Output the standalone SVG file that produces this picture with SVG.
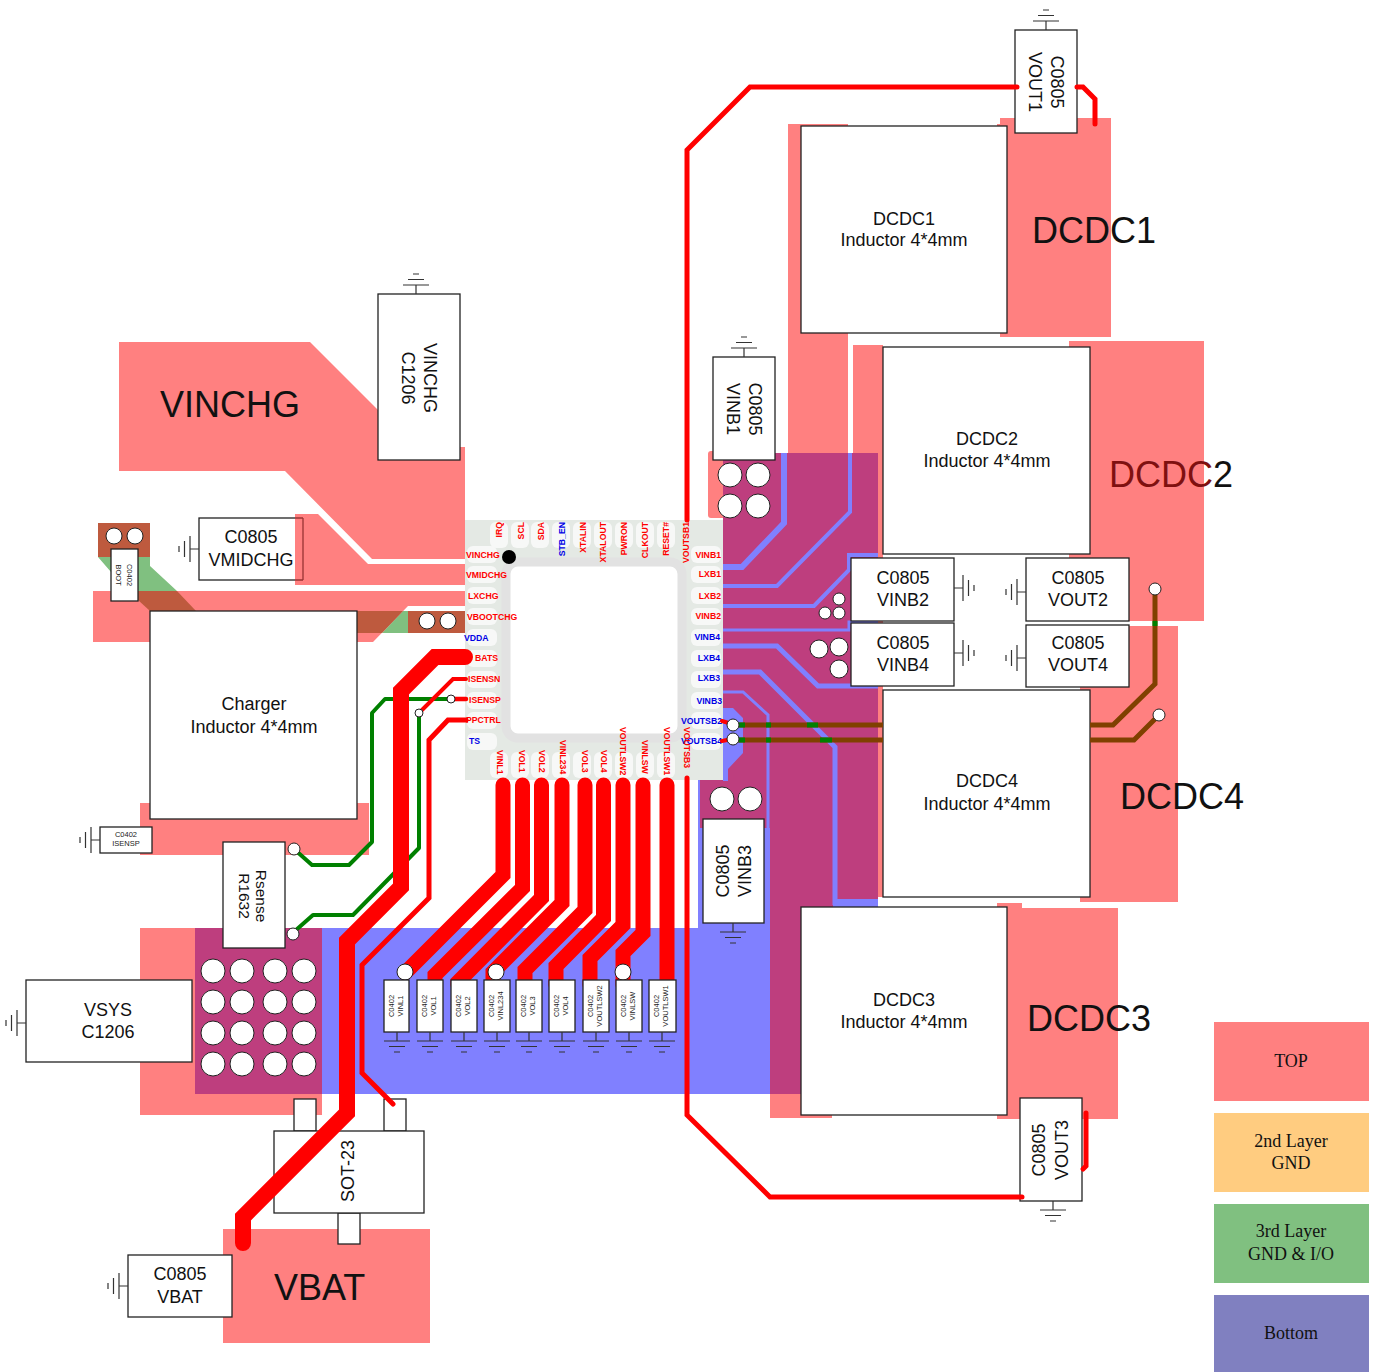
<svg xmlns="http://www.w3.org/2000/svg" xmlns:xlink="http://www.w3.org/1999/xlink" width="1382" height="1372" viewBox="0 0 1382 1372">
<style>
text{font-family:"Liberation Sans",Arial,sans-serif;fill:#111}
.t{font-size:18px;text-anchor:middle}
.rs{font-size:15.5px;text-anchor:middle}
.big{font-size:36px}
.s{font-size:7.5px;text-anchor:middle;fill:#222}
.leg{font-family:"Liberation Serif",serif;font-size:18px;text-anchor:middle}
.box{fill:#fff;stroke:#222;stroke-width:1.3}
.top{fill:#FF8080}.bot{fill:#8080FF}.both{fill:#BE3E7E}
.bl{fill:none;stroke:#8080FF;stroke-linejoin:miter}
.r{fill:none;stroke:#f00;stroke-linecap:round;stroke-linejoin:miter}
.g{fill:none;stroke:#008000;stroke-width:4;stroke-linecap:round;stroke-linejoin:round}
.br{fill:none;stroke:#804000;stroke-width:5}
.via{fill:#fff;stroke:#222;stroke-width:1}
.cr{font-size:8.7px;font-weight:bold;fill:#f00}
.cb{font-size:8.7px;font-weight:bold;fill:#0000e6}
.e{text-anchor:end}
.pad{fill:#f7f8f7;stroke:none}
</style>
<defs>
<g id="gnd" fill="none" stroke="#333" stroke-width="1.2">
<path d="M0 0V9M-13 9H13M-8 14.500H8M-3 20H3"/>
</g>
</defs>

<g id="node-vmidchg-cap">
<rect class="box" x="199" y="518" width="104" height="62"/>
<text class="t" x="251" y="543">C0805</text>
<text class="t" x="251" y="566">VMIDCHG</text>
<use xlink:href="#gnd" href="#gnd" transform="translate(199,549) rotate(90)"/>
</g>

<g id="copper">
<path class="bot" d="M322 928H698V780H770V928H770V1094H322Z"/>
<rect class="bot" x="832" y="899" width="46" height="8"/>
<path class="top" d="M119 342H310L378 410V447H465V559H372L285 471H119Z"/>
<path class="top" d="M295 514H318L368 564H465V585H295Z"/>
<path class="top" d="M93 591H465V606H408L373 642H93Z"/>
<rect class="top" x="140" y="803" width="229" height="52"/>
<rect class="top" x="140" y="928" width="182" height="187"/>
<rect class="top" x="223" y="1229" width="207" height="114"/>
<path class="top" d="M788 124H848V453H788Z"/>
<rect class="top" x="997" y="124" width="20" height="20"/>
<rect class="top" x="1000" y="118" width="111" height="219"/>
<rect class="top" x="853" y="345" width="30" height="110"/>
<rect class="top" x="1069" y="341" width="135" height="280"/>
<rect class="top" x="878" y="453" width="5" height="444"/>
<rect class="top" x="1080" y="626" width="98" height="276"/>
<rect class="top" x="770" y="1094" width="62" height="24"/>
<rect class="top" x="997" y="903" width="25" height="20"/>
<rect class="top" x="997" y="908" width="121" height="211"/>
<rect class="top" x="708" y="451" width="20" height="67" rx="3"/>
<rect class="top" x="700" y="780" width="23" height="3"/>
<path class="both" d="M723 453H878V899H833V1094H770V828H700V780H723Z"/>
<rect class="both" x="195" y="928" width="127" height="166"/>
<path class="bot" d="M723 708H733L743 718V753L728 769V781H723Z"/>
<rect class="bot" x="698" y="828" width="72" height="100"/>
<g class="bl">
<path stroke-width="6" d="M723 567H742L784 523V453"/>
<path stroke-width="4" d="M723 586H777L850 512V453"/>
<path stroke-width="4" d="M723 606H814L849 570V555H878"/>
<path stroke-width="3" d="M723 630H849V622H878"/>
<path stroke-width="5" d="M723 646H777L818 686H878"/>
<path stroke-width="5" d="M723 672H760L835 747V905"/>
<path stroke-width="3" d="M723 692H743L768 715V828"/>
</g>
<rect x="848" y="440" width="5" height="13" fill="#fff"/>
<path fill="#BE5A3E" d="M98 523H150V557H98Z"/>
<path fill="#80C080" d="M98 557H150V566L177 591H138V572H111Z"/>
<path fill="#BE5A3E" d="M138 591H177L196 611H150L138 600Z"/>
<path fill="#80C080" d="M403 611H408V633H382Z"/>
<path fill="#BE5A3E" d="M357 611H403L382 633H357Z"/>
<rect x="408" y="611" width="57" height="22" fill="#BE5A3E"/>
<path d="M303 518V580M295 518H303M295 580H303" stroke="#993333" stroke-width="1.300" fill="none"/>
</g>

<text class="big" x="160" y="417">VINCHG</text>
<text class="big" x="274" y="1300">VBAT</text>
<text class="big" x="1032" y="243">DCDC1</text>
<text class="big" x="1109" y="487" style="fill:#7f1010">DCDC<tspan style="fill:#111">2</tspan></text>
<text class="big" x="1120" y="809">DCDC4</text>
<text class="big" x="1027" y="1031">DCDC3</text>

<g id="chip">
<rect x="465" y="520" width="258" height="260" fill="#e4e9e4"/>
<g class="pad">
<rect x="490" y="522" width="18" height="26" rx="6"/><rect x="511" y="522" width="18" height="26" rx="6"/><rect x="531" y="522" width="18" height="26" rx="6"/><rect x="552" y="522" width="18" height="26" rx="6"/><rect x="573" y="522" width="18" height="26" rx="6"/><rect x="594" y="522" width="18" height="26" rx="6"/><rect x="615" y="522" width="18" height="26" rx="6"/><rect x="636" y="522" width="18" height="26" rx="6"/><rect x="657" y="522" width="18" height="26" rx="6"/>
<rect x="490" y="752" width="18" height="26" rx="6"/><rect x="511" y="752" width="18" height="26" rx="6"/><rect x="531" y="752" width="18" height="26" rx="6"/><rect x="552" y="752" width="18" height="26" rx="6"/><rect x="573" y="752" width="18" height="26" rx="6"/><rect x="594" y="752" width="18" height="26" rx="6"/><rect x="615" y="752" width="18" height="26" rx="6"/><rect x="636" y="752" width="18" height="26" rx="6"/><rect x="657" y="752" width="18" height="26" rx="6"/>
<rect x="467" y="546" width="30" height="17" rx="6"/><rect x="467" y="566" width="30" height="17" rx="6"/><rect x="467" y="587" width="30" height="17" rx="6"/><rect x="467" y="608" width="30" height="17" rx="6"/><rect x="467" y="629" width="30" height="17" rx="6"/><rect x="467" y="650" width="30" height="17" rx="6"/><rect x="467" y="671" width="30" height="17" rx="6"/><rect x="467" y="692" width="30" height="17" rx="6"/><rect x="467" y="712" width="30" height="17" rx="6"/><rect x="467" y="733" width="30" height="17" rx="6"/>
<rect x="691" y="546" width="30" height="17" rx="6"/><rect x="691" y="566" width="30" height="17" rx="6"/><rect x="691" y="587" width="30" height="17" rx="6"/><rect x="691" y="608" width="30" height="17" rx="6"/><rect x="691" y="629" width="30" height="17" rx="6"/><rect x="691" y="650" width="30" height="17" rx="6"/><rect x="691" y="671" width="30" height="17" rx="6"/><rect x="691" y="692" width="30" height="17" rx="6"/><rect x="691" y="712" width="30" height="17" rx="6"/><rect x="691" y="733" width="30" height="17" rx="6"/>
</g>
<rect x="506" y="562" width="176" height="176" rx="12" fill="#fff" stroke="#e2e2e2" stroke-width="9"/>
<circle cx="509" cy="557" r="7" fill="#000"/>
<text class="cr" x="466" y="558">VINCHG</text>
<text class="cr" x="466" y="578">VMIDCHG</text>
<text class="cr" x="468" y="599">LXCHG</text>
<text class="cr" x="467" y="620">VBOOTCHG</text>
<text class="cb" x="464" y="641">VDDA</text>
<text class="cr" x="475" y="661">BATS</text>
<text class="cr" x="468" y="682">ISENSN</text>
<text class="cr" x="469" y="703">ISENSP</text>
<text class="cr" x="466" y="723">PPCTRL</text>
<text class="cb" x="469" y="744">TS</text>
<text class="cr e" x="721" y="558">VINB1</text>
<text class="cr e" x="721" y="577">LXB1</text>
<text class="cr e" x="721" y="599">LXB2</text>
<text class="cr e" x="721" y="619">VINB2</text>
<text class="cb e" x="720" y="640">VINB4</text>
<text class="cb e" x="720" y="661">LXB4</text>
<text class="cb e" x="720" y="681">LXB3</text>
<text class="cb e" x="722" y="704">VINB3</text>
<text class="cb e" x="722" y="724">VOUTSB2</text>
<text class="cb e" x="722" y="744">VOUTSB4</text>
<text class="cr e" transform="translate(502,522) rotate(-90)">IRQ</text>
<text class="cr e" transform="translate(524,522) rotate(-90)">SCL</text>
<text class="cr e" transform="translate(544,522) rotate(-90)">SDA</text>
<text class="cb e" transform="translate(565,522) rotate(-90)">STB_EN</text>
<text class="cr e" transform="translate(586,522) rotate(-90)">XTALIN</text>
<text class="cr e" transform="translate(606,522) rotate(-90)">XTALOUT</text>
<text class="cr e" transform="translate(627,522) rotate(-90)">PWRON</text>
<text class="cr e" transform="translate(648,522) rotate(-90)">CLKOUT</text>
<text class="cr e" transform="translate(669,522) rotate(-90)">RESET#</text>
<text class="cr e" transform="translate(689,522) rotate(-90)">VOUTSB1</text>
<text class="cr" transform="translate(497,750) rotate(90)">VINL1</text>
<text class="cr" transform="translate(519,750) rotate(90)">VOL1</text>
<text class="cr" transform="translate(539,750) rotate(90)">VOL2</text>
<text class="cr" transform="translate(560,740) rotate(90)">VINL234</text>
<text class="cr" transform="translate(582,750) rotate(90)">VOL3</text>
<text class="cr" transform="translate(601,750) rotate(90)">VOL4</text>
<text class="cr" transform="translate(620,727) rotate(90)">VOUTLSW2</text>
<text class="cr" transform="translate(642,740) rotate(90)">VINLSW</text>
<text class="cr" transform="translate(664,727) rotate(90)">VOUTLSW1</text>
<text class="cr" transform="translate(684,727) rotate(90)">VOUTSB3</text>
</g>

<g id="node-dcdc1"><rect class="box" x="801" y="126" width="206" height="207"/><text class="t" x="904" y="225">DCDC1</text><text class="t" x="904" y="246">Inductor 4*4mm</text></g>
<g id="node-dcdc2"><rect class="box" x="883" y="347" width="207" height="207"/><text class="t" x="987" y="445">DCDC2</text><text class="t" x="987" y="467">Inductor 4*4mm</text></g>
<g id="node-dcdc4"><rect class="box" x="883" y="690" width="207" height="207"/><text class="t" x="987" y="787">DCDC4</text><text class="t" x="987" y="810">Inductor 4*4mm</text></g>
<g id="node-dcdc3"><rect class="box" x="801" y="907" width="206" height="208"/><text class="t" x="904" y="1006">DCDC3</text><text class="t" x="904" y="1028">Inductor 4*4mm</text></g>
<g id="node-charger"><rect class="box" x="150" y="611" width="207" height="208"/><text class="t" x="254" y="710">Charger</text><text class="t" x="254" y="733">Inductor 4*4mm</text></g>

<g id="node-vinchg-cap"><rect class="box" x="378" y="294" width="82" height="166"/><text class="t" transform="translate(424,378) rotate(90)">VINCHG</text><text class="t" transform="translate(402,378) rotate(90)">C1206</text><use xlink:href="#gnd" href="#gnd" transform="translate(416,294) rotate(180)"/></g>
<g id="node-vinb1"><rect class="box" x="713" y="357" width="62" height="103"/><text class="t" transform="translate(749,409) rotate(90)">C0805</text><text class="t" transform="translate(727,409) rotate(90)">VINB1</text><use xlink:href="#gnd" href="#gnd" transform="translate(744,357) rotate(180)"/></g>
<g id="node-vout1"><rect class="box" x="1015" y="30" width="62" height="103"/><text class="t" transform="translate(1051,82) rotate(90)">C0805</text><text class="t" transform="translate(1029,82) rotate(90)">VOUT1</text><use xlink:href="#gnd" href="#gnd" transform="translate(1046,30) rotate(180)"/></g>
<g id="node-vinb2"><rect class="box" x="851" y="558" width="103" height="63"/><text class="t" x="903" y="584">C0805</text><text class="t" x="903" y="606">VINB2</text><use xlink:href="#gnd" href="#gnd" transform="translate(954,588) rotate(-90)"/></g>
<g id="node-vinb4"><rect class="box" x="851" y="623" width="103" height="63"/><text class="t" x="903" y="649">C0805</text><text class="t" x="903" y="671">VINB4</text><use xlink:href="#gnd" href="#gnd" transform="translate(954,653) rotate(-90)"/></g>
<g id="node-vout2"><rect class="box" x="1026" y="558" width="103" height="63"/><text class="t" x="1078" y="584">C0805</text><text class="t" x="1078" y="606">VOUT2</text><use xlink:href="#gnd" href="#gnd" transform="translate(1026,592) rotate(90)"/></g>
<g id="node-vout4"><rect class="box" x="1026" y="625" width="103" height="62"/><text class="t" x="1078" y="649">C0805</text><text class="t" x="1078" y="671">VOUT4</text><use xlink:href="#gnd" href="#gnd" transform="translate(1026,658) rotate(90)"/></g>
<g id="node-isensp"><rect class="box" x="100" y="827" width="52" height="26"/><text class="s" x="126" y="837">C0402</text><text class="s" x="126" y="846">ISENSP</text><use xlink:href="#gnd" href="#gnd" transform="translate(100,840) rotate(90)"/></g>
<g id="node-rsense"><rect class="box" x="223" y="842" width="62" height="106"/><text class="rs" transform="translate(256,896) rotate(90)">Rsense</text><text class="rs" transform="translate(239,896) rotate(90)">R1632</text></g>
<g id="node-vsys"><rect class="box" x="26" y="980" width="166" height="82"/><text class="t" x="108" y="1016">VSYS</text><text class="t" x="108" y="1038">C1206</text><use xlink:href="#gnd" href="#gnd" transform="translate(26,1023) rotate(90)"/></g>
<g id="node-vinb3"><rect class="box" x="703" y="819" width="61" height="104"/><text class="t" transform="translate(729,871) rotate(-90)">C0805</text><text class="t" transform="translate(751,871) rotate(-90)">VINB3</text><use xlink:href="#gnd" href="#gnd" transform="translate(733,923)"/></g>
<g id="node-sot23"><rect class="box" x="294" y="1099" width="22" height="32"/><rect class="box" x="384" y="1099" width="22" height="32"/><rect class="box" x="338" y="1213" width="22" height="31"/><rect class="box" x="274" y="1131" width="150" height="82"/><text class="t" transform="translate(354,1171) rotate(-90)">SOT-23</text></g>
<g id="node-vbat-cap"><rect class="box" x="128" y="1255" width="104" height="62"/><text class="t" x="180" y="1280">C0805</text><text class="t" x="180" y="1303">VBAT</text><use xlink:href="#gnd" href="#gnd" transform="translate(128,1286) rotate(90)"/></g>
<g id="node-vout3"><rect class="box" x="1020" y="1098" width="62" height="103"/><text class="t" transform="translate(1045,1150) rotate(-90)">C0805</text><text class="t" transform="translate(1068,1150) rotate(-90)">VOUT3</text><use xlink:href="#gnd" href="#gnd" transform="translate(1053,1201)"/></g>

<g id="connectors">
<path class="g" d="M294 849L312 865H349L372 842V713L385 699H451"/>
<path class="g" d="M296 930L313 915H353L419 848V713"/>
<path class="br" d="M1155 589V684L1113 725H1090"/>
<path class="br" d="M1159 715L1134 740H1090"/>
<path class="br" d="M733 725H883"/>
<path class="br" d="M733 740H883"/>
<path d="M739 725H745M766 725H771M739 740H745M766 740H771M807 725H818M820 740H832" stroke="#008000" stroke-width="5" fill="none"/>
<path d="M1155 621V626" stroke="#008000" stroke-width="5" fill="none"/>
<path class="r" stroke-width="16" d="M465 657H435L401 691V887L347 941V1113L243 1217V1243"/>
<path class="r" stroke-width="4" d="M466 679H453L419 713"/>
<path class="r" stroke-width="4.500" d="M466 699H451"/>
<path class="r" stroke-width="5" d="M466 720H448L429 740V898L362 965V1073L393 1104"/>
<path class="r" stroke-width="15" d="M503 785V875L405 973"/>
<path class="r" stroke-width="15" d="M522.500 785V888L435 975V985"/>
<path class="r" stroke-width="15" d="M541.500 785V898L458 982V985"/>
<path class="r" stroke-width="15" d="M562 785V903L493 972V985"/>
<path class="r" stroke-width="15" d="M585 785V910L525 970V985"/>
<path class="r" stroke-width="15" d="M603.500 785V918L556 966V985"/>
<path class="r" stroke-width="15" d="M623 785V925L590 958V985"/>
<path class="r" stroke-width="15" d="M643 785V933L623 953V985"/>
<path class="r" stroke-width="15" d="M667 785V985"/>
<path class="r" stroke-width="5" d="M687 520V150L750 87H1017"/>
<path class="r" stroke-width="5" d="M1077 87H1083L1095 99V124"/>
<path class="r" stroke-width="5" d="M687 778V1115L770 1197H1022"/>
<path class="r" stroke-width="5" d="M1086 1113V1166L1083 1169"/>
<path class="r" stroke-width="4" d="M722 721L732 724M722 741L732 739"/>
</g>

<g id="vias">
<circle class="via" cx="730" cy="475" r="12"/><circle class="via" cx="758" cy="475" r="12"/><circle class="via" cx="730" cy="506" r="12"/><circle class="via" cx="758" cy="506" r="12"/>
<circle class="via" cx="839" cy="599" r="6"/><circle class="via" cx="825" cy="613" r="6"/><circle class="via" cx="839" cy="613" r="6"/>
<circle class="via" cx="819" cy="649" r="9"/><circle class="via" cx="839" cy="647" r="9"/><circle class="via" cx="839" cy="669" r="9"/>
<circle class="via" cx="722" cy="799" r="12"/><circle class="via" cx="750" cy="799" r="12"/>
<circle class="via" cx="733" cy="725" r="6"/><circle class="via" cx="733" cy="739" r="6"/>
<circle class="via" cx="1155" cy="589" r="6"/><circle class="via" cx="1159" cy="715" r="6"/>
<circle class="via" cx="114" cy="536" r="8"/><circle class="via" cx="135" cy="536" r="8"/>
<circle class="via" cx="427" cy="621" r="8"/><circle class="via" cx="448" cy="621" r="8"/>
<circle class="via" cx="294" cy="849" r="6"/><circle class="via" cx="293" cy="934" r="6"/>
<circle class="via" cx="419" cy="713" r="4"/><circle class="via" cx="451" cy="699" r="4"/>
<circle class="via" cx="213" cy="971" r="12"/><circle class="via" cx="242" cy="971" r="12"/><circle class="via" cx="275" cy="971" r="12"/><circle class="via" cx="304" cy="971" r="12"/>
<circle class="via" cx="213" cy="1002" r="12"/><circle class="via" cx="242" cy="1002" r="12"/><circle class="via" cx="275" cy="1002" r="12"/><circle class="via" cx="304" cy="1002" r="12"/>
<circle class="via" cx="213" cy="1033" r="12"/><circle class="via" cx="242" cy="1033" r="12"/><circle class="via" cx="275" cy="1033" r="12"/><circle class="via" cx="304" cy="1033" r="12"/>
<circle class="via" cx="213" cy="1064" r="12"/><circle class="via" cx="242" cy="1064" r="12"/><circle class="via" cx="275" cy="1064" r="12"/><circle class="via" cx="304" cy="1064" r="12"/>
<circle class="via" cx="405" cy="972" r="8"/><circle class="via" cx="496" cy="972" r="8"/><circle class="via" cx="623" cy="972" r="8"/>
</g>

<g id="node-boot"><rect class="box" x="111" y="549" width="27" height="52"/><text class="s" transform="translate(127,575) rotate(90)">C0402</text><text class="s" transform="translate(116,575) rotate(90)">BOOT</text></g>
<g id="node-c1"><rect class="box" x="384" y="980" width="25" height="52"/><text class="s" transform="translate(394,1006) rotate(-90)">C0402</text><text class="s" transform="translate(403,1006) rotate(-90)">VINL1</text><use xlink:href="#gnd" href="#gnd" transform="translate(397,1032)"/></g>
<g id="node-c2"><rect class="box" x="417" y="980" width="26" height="52"/><text class="s" transform="translate(427,1006) rotate(-90)">C0402</text><text class="s" transform="translate(436,1006) rotate(-90)">VOL1</text><use xlink:href="#gnd" href="#gnd" transform="translate(430,1032)"/></g>
<g id="node-c3"><rect class="box" x="451" y="980" width="26" height="52"/><text class="s" transform="translate(461,1006) rotate(-90)">C0402</text><text class="s" transform="translate(470,1006) rotate(-90)">VOL2</text><use xlink:href="#gnd" href="#gnd" transform="translate(464,1032)"/></g>
<g id="node-c4"><rect class="box" x="484" y="980" width="26" height="52"/><text class="s" transform="translate(494,1006) rotate(-90)">C0402</text><text class="s" transform="translate(503,1006) rotate(-90)">VINL234</text><use xlink:href="#gnd" href="#gnd" transform="translate(497,1032)"/></g>
<g id="node-c5"><rect class="box" x="516" y="980" width="26" height="52"/><text class="s" transform="translate(526,1006) rotate(-90)">C0402</text><text class="s" transform="translate(535,1006) rotate(-90)">VOL3</text><use xlink:href="#gnd" href="#gnd" transform="translate(529,1032)"/></g>
<g id="node-c6"><rect class="box" x="549" y="980" width="26" height="52"/><text class="s" transform="translate(559,1006) rotate(-90)">C0402</text><text class="s" transform="translate(568,1006) rotate(-90)">VOL4</text><use xlink:href="#gnd" href="#gnd" transform="translate(562,1032)"/></g>
<g id="node-c7"><rect class="box" x="583" y="980" width="26" height="52"/><text class="s" transform="translate(593,1006) rotate(-90)">C0402</text><text class="s" transform="translate(602,1006) rotate(-90)">VOUTLSW2</text><use xlink:href="#gnd" href="#gnd" transform="translate(596,1032)"/></g>
<g id="node-c8"><rect class="box" x="616" y="980" width="26" height="52"/><text class="s" transform="translate(626,1006) rotate(-90)">C0402</text><text class="s" transform="translate(635,1006) rotate(-90)">VINLSW</text><use xlink:href="#gnd" href="#gnd" transform="translate(629,1032)"/></g>
<g id="node-c9"><rect class="box" x="649" y="980" width="27" height="52"/><text class="s" transform="translate(659,1006) rotate(-90)">C0402</text><text class="s" transform="translate(668,1006) rotate(-90)">VOUTLSW1</text><use xlink:href="#gnd" href="#gnd" transform="translate(662,1032)"/></g>

<g id="legend">
<rect x="1214" y="1022" width="155" height="79" fill="#FF8080"/><text class="leg" x="1291" y="1067">TOP</text>
<rect x="1214" y="1113" width="155" height="79" fill="#FFCC80"/><text class="leg" x="1291" y="1147">2nd Layer</text><text class="leg" x="1291" y="1169">GND</text>
<rect x="1214" y="1204" width="155" height="79" fill="#80C080"/><text class="leg" x="1291" y="1237">3rd Layer</text><text class="leg" x="1291" y="1260">GND &amp; I/O</text>
<rect x="1214" y="1295" width="155" height="77" fill="#8080C0"/><text class="leg" x="1291" y="1339">Bottom</text>
</g>
</svg>
